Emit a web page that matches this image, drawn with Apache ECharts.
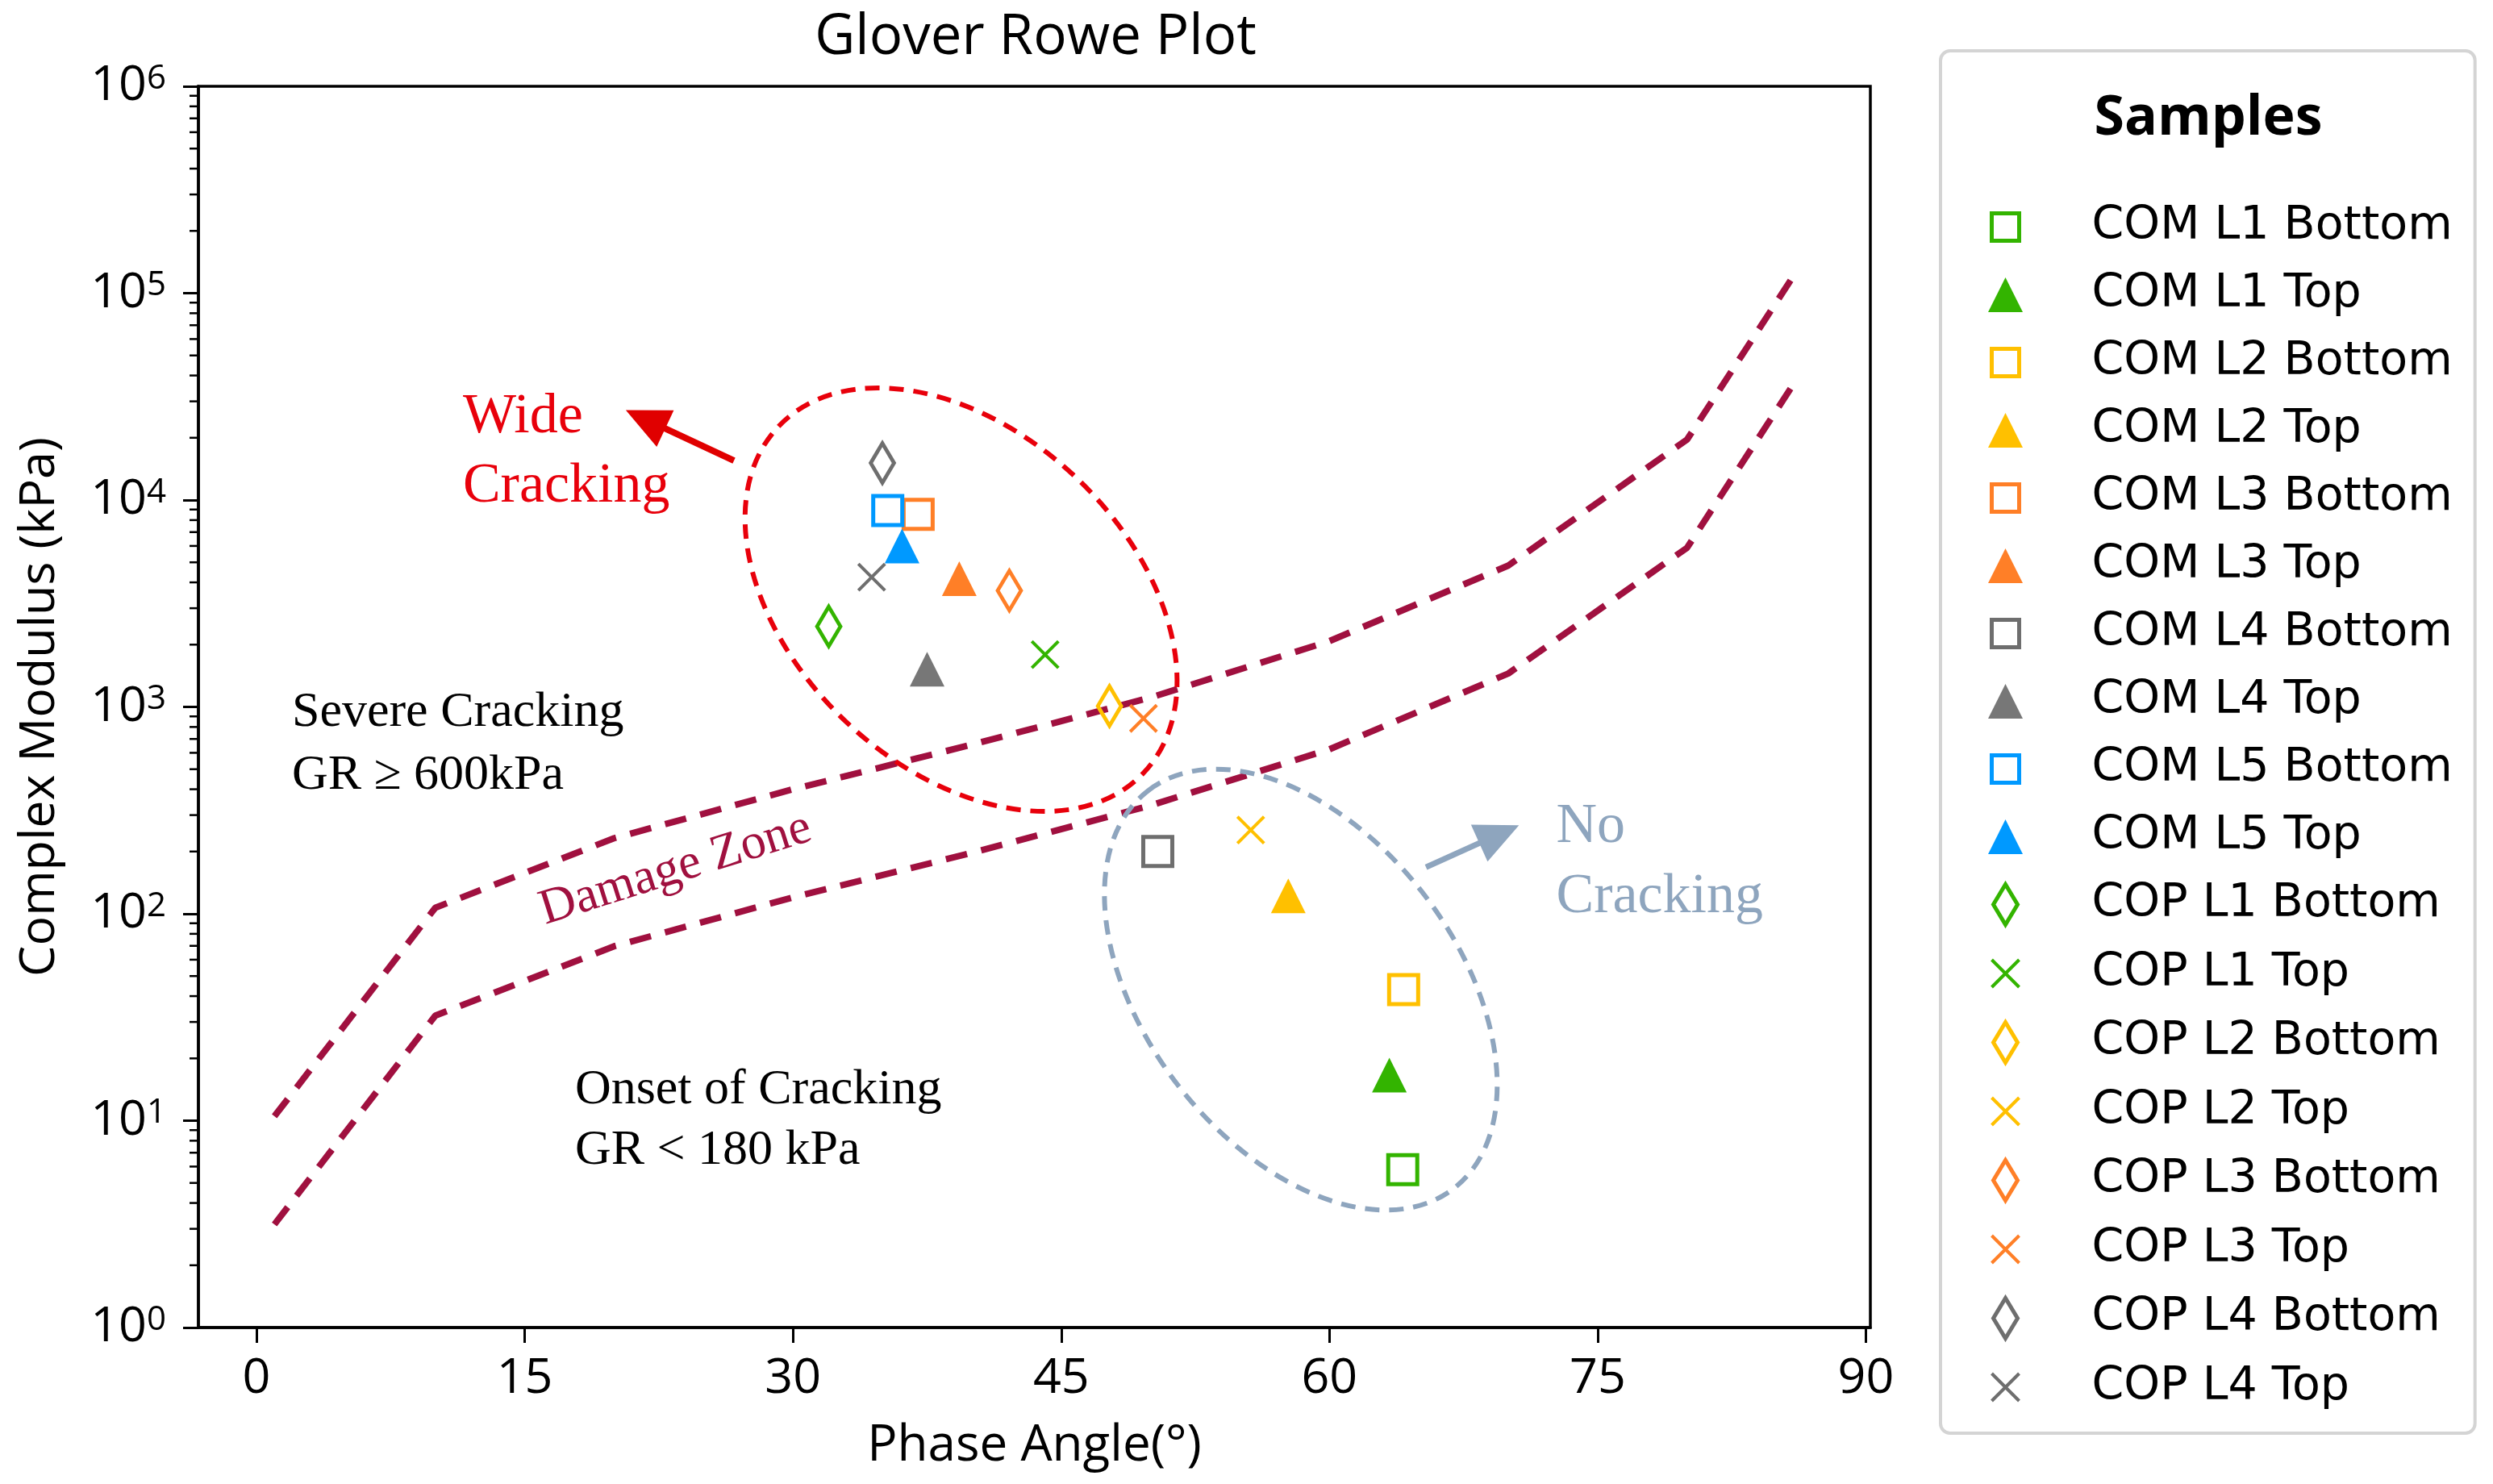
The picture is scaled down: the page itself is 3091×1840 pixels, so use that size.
<!DOCTYPE html>
<html>
<head>
<meta charset="utf-8">
<script src="https://cdn.jsdelivr.net/npm/echarts@6/dist/echarts.min.js"></script>
<style>
html,body{margin:0;padding:0;background:#fff;}
#c{width:3091px;height:1840px;}
</style>
</head>
<body>
<div id="c"></div>
<script>
// ---------- data ----------
const sampleNames = [
  'COM L1 Bottom','COM L1 Top','COM L2 Bottom','COM L2 Top','COM L3 Bottom','COM L3 Top',
  'COM L4 Bottom','COM L4 Top','COM L5 Bottom','COM L5 Top',
  'COP L1 Bottom','COP L1 Top','COP L2 Bottom','COP L2 Top','COP L3 Bottom','COP L3 Top',
  'COP L4 Bottom','COP L4 Top'
];
const phaseAngle = [64.1, 63.35, 64.15, 57.7, 37.0, 39.3, 50.4, 37.5, 35.3, 36.1,
                    32.0, 44.1, 47.7, 55.6, 42.1, 49.6, 35.0, 34.4];
const complexModulus = [5.8, 16.6, 43, 122, 8530, 4170, 200, 1520, 8900, 6000,
                        2450, 1790, 1010, 254, 3650, 880, 15100, 4240];
const markerKind = ['square','triangle','square','triangle','square','triangle','square','triangle','square','triangle',
                    'diamond','x','diamond','x','diamond','x','diamond','x'];
const markerColor = ['#33b400','#33b400','#ffc000','#ffc000','#ff7f27','#ff7f27','#6e6e6e','#777777','#0099ff','#0099ff',
                     '#33b400','#33b400','#ffc000','#ffc000','#ff7f27','#ff7f27','#6e6e6e','#6e6e6e'];

// damage zone boundaries (GR = 600 kPa and GR = 180 kPa)
const zoneAngles = [1, 10, 20, 30, 40, 50, 60, 70, 80, 86];
const upperModulus = [10.5, 107, 232, 400, 657, 1110, 2080, 4820, 19600, 123000];
const lowerModulus = [3.15, 32.2, 69.7, 120, 197, 334, 624, 1450, 5880, 36900];

// axis ticks
const xTicks = [0, 15, 30, 45, 60, 75, 90];
const yTicks = [1, 10, 100, 1000, 10000, 100000, 1000000];
const yMinorMultipliers = [2, 3, 4, 5, 6, 7, 8, 9];
const xMin = -3.25, xMax = 90.25;

// ---------- chart ----------
const chart = echarts.init(document.getElementById('c'), null, {renderer: 'canvas'});

const symbolFor = {
  square: 'rect',
  triangle: 'triangle',
  diamond: 'diamond',
  x: 'path://M0,0L10,10M10,0L0,10'
};
const sizeFor = { square: 36, triangle: 43, diamond: [29, 49], x: 33 };
// legend icons drawn in a 44x56 frame (first two moves fix the frame)
const legendIconFor = {
  square: 'path://M0,0M44,56M5,11L39,11L39,45L5,45Z',
  triangle: 'path://M0,0M44,56M22,6.5L43.5,49.5L0.5,49.5Z',
  diamond: 'path://M0,0M44,56M22,3L37,28L22,53L7,28Z',
  x: 'path://M0,0M44,56M5,11L39,45M39,11L5,45'
};
function styleFor(k, c) {
  if (k === 'triangle') return {color: c, borderWidth: 0, opacity: 1};
  return {color: 'rgba(0,0,0,0)', borderColor: c, borderWidth: k === 'x' ? 4 : 5, opacity: 1};
}

const series = [];
const zoneStyle = {color: '#a0103f', width: 8, type: [27, 18], opacity: 1};
series.push({
  type: 'line', name: 'GR600', data: zoneAngles.map((a, i) => [a, upperModulus[i]]),
  showSymbol: false, symbol: 'none', lineStyle: zoneStyle, silent: true, z: 2, animation: false
});
series.push({
  type: 'line', name: 'GR180', data: zoneAngles.map((a, i) => [a, lowerModulus[i]]),
  showSymbol: false, symbol: 'none', lineStyle: zoneStyle, silent: true, z: 2, animation: false
});

const legendData = [];
sampleNames.forEach((name, i) => {
  const k = markerKind[i], c = markerColor[i];
  series.push({
    type: 'scatter', name: name,
    data: [[phaseAngle[i], complexModulus[i]]],
    symbol: symbolFor[k], symbolSize: sizeFor[k],
    itemStyle: styleFor(k, c),
    emphasis: {disabled: true},
    z: 5, animation: false, silent: true
  });
  legendData.push({name: name, icon: legendIconFor[k], itemStyle: styleFor(k, c)});
});

// minor ticks for the log axis
const minorTickData = [];
yTicks.slice(0, -1).forEach(d => yMinorMultipliers.forEach(m => minorTickData.push([xMin, d * m])));
series.push({
  type: 'custom', name: 'minorTicks', data: minorTickData, clip: false, silent: true, z: 6,
  renderItem: function (params, api) {
    const p = api.coord([api.value(0), api.value(1)]);
    return {type: 'line', shape: {x1: p[0] - 11, y1: p[1], x2: p[0], y2: p[1]},
            style: {stroke: '#000', lineWidth: 2.5}};
  }
});

const labelFont = 'Open Sans';
chart.setOption({
  animation: false,
  backgroundColor: '#fff',
  title: [
    {text: 'Glover Rowe Plot', left: 1284, top: 13, textAlign: 'center', padding: 0, z: 10,
     textStyle: {fontFamily: labelFont, fontSize: 69, fontWeight: 'normal', color: '#000'}},
    {text: 'Samples', left: 2738, top: 114, textAlign: 'center', padding: 0, z: 10,
     textStyle: {fontFamily: labelFont, fontSize: 68, fontWeight: 'bold', color: '#000'}}
  ],
  grid: {left: 246, right: 772, top: 107, bottom: 194, show: true, borderColor: '#000', borderWidth: 3.5,
         backgroundColor: 'transparent', containLabel: false, outerBoundsMode: 'none'},
  legend: {
    orient: 'vertical', left: 2406, top: 63,
    padding: [188, 28, 27, 56],
    itemWidth: 44, itemHeight: 56, itemGap: 25,
    backgroundColor: '#fff', borderColor: '#d4d4d4', borderWidth: 4, borderRadius: 12,
    selectedMode: false,
    textStyle: {fontFamily: 'DejaVu Sans', fontSize: 57, color: '#000', lineHeight: 56, padding: [0, 0, 0, 80]},
    data: legendData
  },
  xAxis: {
    type: 'value', min: xMin, max: xMax,
    name: 'Phase Angle(°)', nameLocation: 'middle', nameGap: 116,
    nameTextStyle: {fontFamily: labelFont, fontSize: 62, color: '#000'},
    axisLine: {show: true, onZero: false, lineStyle: {color: '#000', width: 3.5}},
    axisTick: {show: true, inside: false, length: 19, lineStyle: {color: '#000', width: 3}, customValues: xTicks},
    axisLabel: {show: true, margin: 33, fontFamily: labelFont, fontSize: 61, color: '#000', customValues: xTicks},
    splitLine: {show: false}, minorTick: {show: false}
  },
  yAxis: {
    type: 'log', logBase: 10, min: 1, max: 1000000,
    name: 'Complex Modulus (kPa)', nameLocation: 'middle', nameGap: 166,
    nameTextStyle: {fontFamily: labelFont, fontSize: 61, color: '#000'},
    axisLine: {show: true, onZero: false, lineStyle: {color: '#000', width: 3.5}},
    axisTick: {show: true, inside: false, length: 19, lineStyle: {color: '#000', width: 3}, customValues: yTicks},
    axisLabel: {
      show: true, margin: 40, fontFamily: labelFont, fontSize: 61, color: '#000', lineHeight: 60,
      customValues: yTicks,
      formatter: v => '10{s|' + Math.round(Math.log10(v)) + '}',
      rich: {s: {fontFamily: labelFont, fontSize: 42, lineHeight: 42, verticalAlign: 'top', color: '#000'}}
    },
    splitLine: {show: false}, minorTick: {show: false}
  },
  series: series
});

// ---------- annotations (anchored in data coordinates) ----------
const redEllipse = {center: [39.4, 3300], rx: 312, ry: 208, angle: 43.5, color: '#e8000b'};
const grayEllipse = {center: [58.4, 43], rx: 311, ry: 193, angle: 52.5, color: '#8ea5be'};
const redArrow = {tail: [26.7, 15500], tip: [20.65, 27200], color: '#e00000', width: 8};
const grayArrow = {tail: [65.4, 168], tip: [70.6, 268], color: '#8ea5be', width: 7};
const notes = [
  {text: 'Wide\nCracking', at: [11.54, 17000], size: 70, lh: 86, color: '#e8000b'},
  {text: 'Severe Cracking\nGR ≥ 600kPa', at: [1.98, 660], size: 62, lh: 78, color: '#000'},
  {text: 'Onset of Cracking\nGR < 180 kPa', at: [17.81, 10.0], size: 62, lh: 75, color: '#000'},
  {text: 'No\nCracking', at: [72.68, 178], size: 70, lh: 87, color: '#8ea5be'}
];
const zoneLabel = {text: 'Damage Zone', at: [23.44, 164], size: 62, rotate: 17.5, color: '#a0103f'};

function toPx(p) { return chart.convertToPixel({gridIndex: 0}, p); }
function ellipseEl(e) {
  const c = toPx(e.center);
  return {type: 'ellipse', x: c[0], y: c[1], rotation: -e.angle * Math.PI / 180, z: 20, silent: true,
          shape: {cx: 0, cy: 0, rx: e.rx, ry: e.ry},
          style: {fill: 'none', stroke: e.color, lineWidth: 6, lineDash: [18, 12]}};
}
function arrowEls(a) {
  const t = toPx(a.tail), p = toPx(a.tip);
  const dx = p[0] - t[0], dy = p[1] - t[1], L = Math.hypot(dx, dy);
  const ux = dx / L, uy = dy / L, nx = -uy, ny = ux;
  const hl = 54, hw = 25;
  const bx = p[0] - ux * hl, by = p[1] - uy * hl;
  return [
    {type: 'line', z: 20, silent: true, shape: {x1: t[0], y1: t[1], x2: bx + ux * 4, y2: by + uy * 4},
     style: {stroke: a.color, lineWidth: a.width}},
    {type: 'polygon', z: 20, silent: true,
     shape: {points: [[p[0], p[1]], [bx + nx * hw, by + ny * hw], [bx - nx * hw, by - ny * hw]]},
     style: {fill: a.color}}
  ];
}
const g = [ellipseEl(redEllipse), ellipseEl(grayEllipse)]
  .concat(arrowEls(redArrow)).concat(arrowEls(grayArrow));
notes.forEach(n => {
  const p = toPx(n.at);
  g.push({type: 'text', x: p[0], y: p[1], z: 20, silent: true,
          style: {text: n.text, font: n.size + 'px "Liberation Serif"', fill: n.color,
                  align: 'left', verticalAlign: 'middle', lineHeight: n.lh}});
});
(function () {
  const p = toPx(zoneLabel.at);
  g.push({type: 'text', x: p[0], y: p[1], rotation: zoneLabel.rotate * Math.PI / 180, z: 20, silent: true,
          style: {text: zoneLabel.text, font: zoneLabel.size + 'px "Liberation Serif"', fill: zoneLabel.color,
                  align: 'center', verticalAlign: 'middle'}});
})();
chart.setOption({graphic: g});
</script>
</body>
</html>
